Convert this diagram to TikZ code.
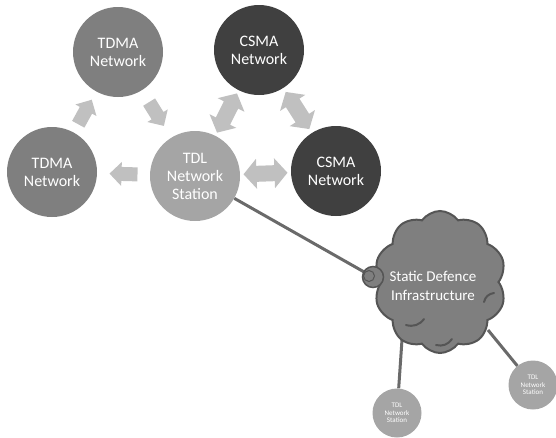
\documentclass[tikz,border=0pt]{standalone}
\usepackage{fontspec}
\setmainfont{Carlito}
\usepackage{tikz}
\usetikzlibrary{calc,shapes.symbols,backgrounds}
\definecolor{tdma}{HTML}{7F7F7F}
\definecolor{csma}{HTML}{404040}
\definecolor{tdl}{HTML}{A5A5A5}
\definecolor{flow}{HTML}{C0C0C0}
\definecolor{link}{HTML}{6A6A6A}
\definecolor{edge}{HTML}{555555}
\tikzset{
  net/.style={circle, minimum size=90pt, inner sep=0pt, text=white, align=center,
    font=\fontsize{16}{18}\selectfont},
  station/.style={circle, fill=tdl, minimum size=49pt, inner sep=0pt, text=white,
    align=center, font=\fontsize{7}{7.5}\selectfont},
  wire/.style={draw=link, line width=3pt},
  crease/.style={draw=edge, line width=2pt, line cap=round},
}
% block arrow outlines, pointing along +x, centred on the origin
\def\oneway{(-14,-7) -- (2,-7) -- (2,-12) -- (14,0) -- (2,12) -- (2,7) -- (-14,7) -- cycle}
\def\twoway{(-22,0) -- (-9,-15) -- (-9,-8) -- (9,-8) -- (9,-15) -- (22,0) -- (9,15) -- (9,8)
  -- (-9,8) -- (-9,15) -- cycle}

\begin{document}
\begin{tikzpicture}[x=1pt, y=-1pt]
\useasboundingbox (0,0) rectangle (556,437);
\node[net, fill=tdma] (tdmatop) at (118,52) {TDMA\\Network};
\node[net, fill=csma] (csmatop) at (259,50) {CSMA\\Network};
\node[net, fill=tdma] (tdmaleft) at (52,172) {TDMA\\Network};
\node[net, fill=tdl] (tdl) at (195,176) {TDL\\Network\\Station};
\node[net, fill=csma] (csmaright) at (336,171) {CSMA\\Network};
\foreach \a/\b/\s in {tdl/tdmaleft/\oneway, tdmaleft/tdmatop/\oneway, tdmatop/tdl/\oneway,
    tdl/csmatop/\twoway, csmatop/csmaright/\twoway, tdl/csmaright/\twoway}{
  \pgfmathanglebetweenpoints{\pgfpointanchor{\a}{center}}{\pgfpointanchor{\b}{center}}
  \let\ang\pgfmathresult
  \coordinate (\a\b) at ($(\a)!0.5!(\b)$);
  \fill[flow, shift={(\a\b)}, rotate=\ang] \s;
}
\node[cloud, cloud puffs=10, cloud puff arc=110, aspect=0.85, fill=tdma, draw=edge,
  line width=2pt, minimum width=132pt, minimum height=142pt, inner sep=0pt] (sdi) at (440,282) {};
% creases inside the cloud
\draw[crease] (406,325) to[bend right=35] (424,319);
\draw[crease] (436,345) to[bend right=35] (452,339);
\draw[crease] (484,302) to[bend left=35] (494,293);
\node[text=white, align=center, font=\fontsize{15}{19}\selectfont] (sdilabel) at (433,286)
  {Static Defence\\Infrastructure};
\node[circle, draw=edge, fill=tdma, line width=1.5pt, minimum size=21pt, inner sep=0pt] (ring) at (373,277) {};
\node[circle, draw=edge, line width=1pt, minimum size=11pt, inner sep=0pt] (ringin) at (369,276) {};
\node[station] (stationb) at (397,413) {TDL\\Network\\Station};
\node[station] (stationr) at (533,385) {TDL\\Network\\Station};
\coordinate (sdib) at (403,325);
\coordinate (sdir) at (488,330);
\begin{scope}[on background layer]
\draw[wire] (tdl) -- (ring.center);
\draw[wire] (sdib) -- (stationb);
\draw[wire] (sdir) -- (stationr);
\end{scope}
\end{tikzpicture}
\end{document}
